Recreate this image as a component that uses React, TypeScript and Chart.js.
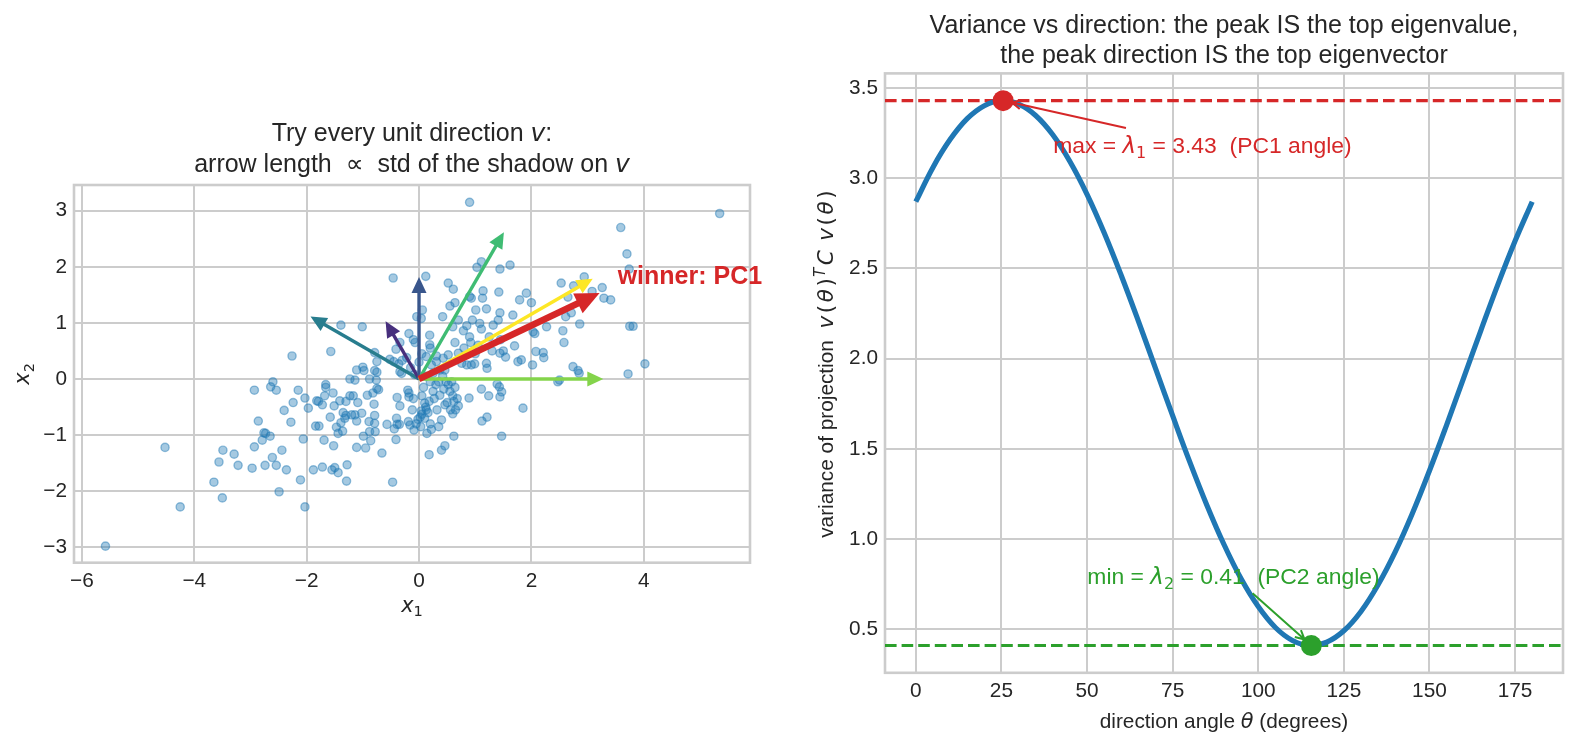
import React, { useEffect, useRef } from 'react';
import { Chart, registerables } from 'chart.js';

Chart.register(...registerables);

const TEXT = '#262626';
const GRID = '#cccccc';
const RED = '#d62728';
const GREEN = '#2ca02c';
const BLUE = '#1f77b4';
const SANS = '"Liberation Sans", Arial, sans-serif';
const MATH = '"DejaVu Sans", sans-serif';

// ---------- left panel: 2-D sample cloud ----------
const samplePoints: [number, number][] = [
  [-0.46, 1.8], [0.12, 1.83], [0.52, 1.71], [0.61, 1.6], [0.55, 1.3], [0.64, 1.36], [0.06, 1.23],
  [-0.04, 1.11], [0.04, 1.08], [0.42, 1.11], [0.6, 0.93], [-1.39, 0.96], [-1.01, 0.93], [-0.18, 0.81],
  [-0.1, 0.7], [-0.07, 0.65], [0.19, 0.78], [0.19, 0.61], [0.2, 0.55], [0.64, 0.65], [-0.34, 0.65],
  [-0.41, 0.53], [0.13, 0.4], [0.31, 0.41], [0.43, 0.37], [0.52, 0.43], [-1.57, 0.49], [-2.26, 0.41],
  [-0.79, 0.47], [-0.75, 0.31], [-0.52, 0.35], [-0.45, 0.31], [-0.36, 0.27], [-0.3, 0.33], [-1.11, 0.16],
  [-1.0, 0.21], [-0.98, 0.15], [-0.79, 0.15], [-0.75, 0.12], [-0.34, 0.13], [-0.31, 0.1], [0.31, 0.31],
  [0.37, 0.16], [0.46, 0.16], [-1.23, 0.0], [-1.14, -0.02], [-0.88, 0.0], [-0.76, -0.02], [-2.6, -0.05],
  [-2.64, -0.14], [-2.54, -0.2], [-2.93, -0.2], [-1.66, -0.15],
  [0.9, 3.15], [5.35, 2.95], [3.59, 2.7], [3.7, 2.23], [3.74, 1.96], [2.94, 1.82], [2.75, 1.66],
  [2.53, 1.71], [3.26, 1.63], [3.08, 1.56], [3.29, 1.44], [3.41, 1.41], [2.65, 1.46], [3.75, 0.94],
  [3.81, 0.94], [4.02, 0.27], [3.72, 0.09], [2.86, 0.98], [2.71, 1.18], [2.61, 1.11], [2.56, 0.86],
  [2.58, 0.65], [2.27, 0.93], [2.21, 0.47], [2.22, 0.38], [2.08, 0.49], [2.03, 0.84], [2.06, 0.81],
  [2.02, 0.25], [2.0, 1.36], [1.91, 1.53], [1.79, 1.41], [1.67, 1.14], [1.7, 0.59], [1.76, 0.31],
  [1.82, 0.34], [1.5, 0.5], [1.54, 0.39], [1.62, 2.03], [1.44, 1.96], [1.42, 1.55], [1.44, 1.18],
  [1.41, 1.05], [1.32, 0.96], [1.11, 2.09], [1.03, 1.99], [1.14, 1.57], [1.13, 1.44], [1.01, 1.23],
  [0.9, 1.47], [0.93, 1.44], [1.08, 0.99], [1.11, 0.89], [0.9, 0.75], [0.92, 0.65], [0.79, 0.86],
  [0.7, 0.46], [0.76, 0.28], [0.85, 0.25], [0.93, 0.25], [0.99, 0.27], [1.2, 0.28], [1.21, 0.19],
  [2.74, 0.22], [2.83, 0.15], [2.85, 0.1], [2.47, -0.05], [2.5, -0.02], [1.44, 0.46], [0.8, 0.55],
  [1.0, 0.45], [1.05, 0.6], [1.25, 0.75], [1.3, 0.5], [1.45, 0.7], [0.95, 1.05], [1.2, 1.25],
  [0.7, 1.05], [0.85, 0.95],
  [-5.58, -2.98], [-4.52, -1.22], [-4.25, -2.28], [-3.65, -1.84], [-3.5, -2.12], [-3.56, -1.48],
  [-3.49, -1.27], [-3.29, -1.34], [-3.22, -1.54], [-2.97, -1.59], [-2.93, -1.21], [-2.86, -0.75],
  [-2.79, -1.09], [-2.76, -0.96], [-2.73, -0.97], [-2.65, -1.02], [-2.74, -1.54], [-2.61, -1.4],
  [-2.54, -1.54], [-2.49, -2.01], [-2.44, -1.27], [-2.36, -1.62], [-2.4, -0.56], [-2.28, -0.77],
  [-2.24, -0.42], [-2.15, -0.2], [-2.11, -1.8], [-2.06, -1.07], [-2.03, -0.34], [-2.03, -2.28],
  [-1.97, -0.52], [-1.88, -1.62], [-1.84, -0.84], [-1.78, -0.84], [-1.82, -0.39], [-1.79, -0.4],
  [-1.72, -1.57], [-1.72, -0.46], [-1.69, -1.09], [-1.68, -0.3], [-1.66, -0.1], [-1.58, -0.68],
  [-1.55, -1.62], [-1.5, -1.58], [-1.53, -0.25], [-1.52, -1.19], [-1.51, -0.48], [-1.44, -1.67],
  [-1.47, -0.86], [-1.44, -0.97], [-1.41, -0.39], [-1.39, -0.78], [-1.35, -0.6], [-1.32, -0.7],
  [-1.3, -0.65], [-1.36, -0.93], [-1.3, -0.4], [-1.28, -1.53], [-1.29, -1.82], [-1.23, -0.3],
  [-1.17, -0.3], [-1.2, -0.64], [-1.14, -0.64], [-1.11, -1.22], [-1.11, -0.75], [-1.09, -0.42],
  [-1.02, -0.61], [-0.99, -1.02], [-0.95, -1.23], [-0.92, -0.29], [-0.89, -0.76], [-0.88, -0.94],
  [-0.86, -1.1], [-0.82, -0.25], [-0.8, -0.45], [-0.79, -0.65], [-0.79, -0.79], [-0.78, -0.94],
  [-0.75, -0.17], [-0.72, -0.19], [-0.66, -1.32], [-0.57, -0.81], [-0.47, -1.84], [-0.44, -0.89],
  [-0.41, -1.08], [-0.4, -0.7], [-0.39, -0.33], [-0.34, -0.48], [-0.39, -0.81], [-0.35, -0.81],
  [-0.19, -0.76], [-0.16, -0.82], [-0.18, -0.25], [-0.18, -0.32], [-0.09, -0.91], [-0.02, -0.72],
  [0.02, -0.68], [0.05, -0.63], [0.04, -0.57], [0.1, -0.43], [0.13, -0.55], [0.14, -0.97],
  [0.18, -1.35], [0.4, -1.27], [0.46, -1.19], [0.62, -1.02], [0.46, -0.46], [0.4, -0.73],
  [1.85, -0.52], [1.47, -1.02], [1.44, -0.32], [1.47, -0.23], [1.43, -0.14], [1.39, -0.09],
  [1.24, -0.3], [1.11, -0.18], [1.21, -0.68], [1.12, -0.75], [0.89, -0.34], [0.37, -0.29],
  [0.44, -0.18], [0.52, -0.1], [0.55, -0.22], [0.6, -0.3], [0.62, -0.4], [0.58, -0.05], [0.64, -0.15],
  [0.68, -0.35], [0.5, -0.42], [0.56, -0.55], [0.65, -0.55], [0.7, -0.48], [0.6, -0.62],
  [-0.1, -0.35], [0.05, -0.3], [0.12, -0.5], [0.16, -0.6], [0.18, -0.4], [0.1, -0.7], [0.03, -0.85],
  [-0.05, -0.8], [-0.12, -0.55], [-0.2, -0.2], [0.08, -0.15], [0.2, -0.05], [0.25, -0.22],
  [0.3, -0.1], [0.35, -0.05], [0.12, 0.05], [-0.08, 0.08], [-0.15, 0.2], [-0.22, 0.38], [0.0, 0.3],
  [0.05, 0.45], [0.22, 0.25], [0.25, 0.1], [0.42, 0.05], [0.48, -0.05], [0.27, -0.35], [0.32, -0.55],
  [0.35, -0.85], [0.2, -0.8], [0.22, -0.9],
];

// probe directions (degrees), their arrow lengths and colours, in drawing order
const probeAngles = [150, 120, 90, 60, 0, 30];
const probeLengths = [2.23, 1.19, 1.82, 3.02, 3.28, 3.57];
const probeColors = ['#287d8e', '#472f7d', '#39568c', '#3fbc73', '#84d44b', '#fde725'];
const pc1Angle = 25.5;
const pc1Length = 3.56;

const leftXTicks = [-6, -4, -2, 0, 2, 4];
const leftYTicks = [-3, -2, -1, 0, 1, 2, 3];

// ---------- right panel: variance of the projection vs angle ----------
const angleGrid = [0, 5, 10, 15, 20, 25, 30, 35, 40, 45, 50, 55, 60, 65, 70, 75, 80, 85, 90, 95, 100,
  105, 110, 115, 120, 125, 130, 135, 140, 145, 150, 155, 160, 165, 170, 175, 180];
const projVariance = [2.87, 3.06, 3.214, 3.33, 3.402, 3.43, 3.411, 3.348, 3.241, 3.093, 2.911, 2.698,
  2.461, 2.208, 1.946, 1.684, 1.428, 1.188, 0.97, 0.78, 0.626, 0.51, 0.438, 0.41, 0.429, 0.492, 0.599,
  0.747, 0.929, 1.142, 1.379, 1.632, 1.894, 2.156, 2.412, 2.652, 2.87];
const lambda1 = 3.43;
const lambda2 = 0.41;
const thetaMax = 25.5;
const thetaMin = 115.5;

const rightXTicks = [0, 25, 50, 75, 100, 125, 150, 175];
const rightYTicks = [0.5, 1.0, 1.5, 2.0, 2.5, 3.0, 3.5];

// ---------- text helpers ----------
type Seg = { t: string; font: string; dy?: number; sp?: number };
const sans = (s: number, w = '') => `${w} ${s}px ${SANS}`.trim();
const math = (s: number) => `${s}px ${MATH}`;
const mathIt = (s: number) => `italic ${s}px ${MATH}`;

function segsWidth(ctx: CanvasRenderingContext2D, segs: Seg[]) {
  let w = 0;
  for (const s of segs) {
    ctx.font = s.font;
    w += ctx.measureText(s.t).width + (s.sp || 0);
  }
  return w;
}

function drawSegs(ctx: CanvasRenderingContext2D, segs: Seg[], x: number, y: number, align: 'left' | 'center', color: string) {
  const w = segsWidth(ctx, segs);
  let cx = align === 'center' ? x - w / 2 : x;
  ctx.save();
  ctx.fillStyle = color;
  ctx.textAlign = 'left';
  ctx.textBaseline = 'alphabetic';
  for (const s of segs) {
    ctx.font = s.font;
    ctx.fillText(s.t, cx, y + (s.dy || 0));
    cx += ctx.measureText(s.t).width + (s.sp || 0);
  }
  ctx.restore();
  return w;
}

function drawRotated(ctx: CanvasRenderingContext2D, segs: Seg[], x: number, y: number, color: string) {
  ctx.save();
  ctx.translate(x, y);
  ctx.rotate(-Math.PI / 2);
  drawSegs(ctx, segs, 0, 0, 'center', color);
  ctx.restore();
}

function filledArrow(ctx: CanvasRenderingContext2D, x0: number, y0: number, x1: number, y1: number,
  color: string, lw: number, headLen: number, headHalf: number) {
  const dx = x1 - x0, dy = y1 - y0;
  const L = Math.hypot(dx, dy);
  const ux = dx / L, uy = dy / L;
  const bx = x1 - ux * headLen, by = y1 - uy * headLen;
  ctx.save();
  ctx.strokeStyle = color;
  ctx.fillStyle = color;
  ctx.lineWidth = lw;
  ctx.lineCap = 'butt';
  ctx.beginPath();
  ctx.moveTo(x0, y0);
  ctx.lineTo(bx + ux * 2, by + uy * 2);
  ctx.stroke();
  ctx.beginPath();
  ctx.moveTo(x1, y1);
  ctx.lineTo(bx - uy * headHalf, by + ux * headHalf);
  ctx.lineTo(bx + uy * headHalf, by - ux * headHalf);
  ctx.closePath();
  ctx.fill();
  ctx.restore();
}

function openArrow(ctx: CanvasRenderingContext2D, x0: number, y0: number, x1: number, y1: number, color: string) {
  const dx = x1 - x0, dy = y1 - y0;
  const L = Math.hypot(dx, dy);
  const ux = dx / L, uy = dy / L;
  const hl = 9, hw = 4.6;
  ctx.save();
  ctx.strokeStyle = color;
  ctx.lineWidth = 2;
  ctx.beginPath();
  ctx.moveTo(x0, y0);
  ctx.lineTo(x1, y1);
  ctx.moveTo(x1 - ux * hl - uy * hw, y1 - uy * hl + ux * hw);
  ctx.lineTo(x1, y1);
  ctx.lineTo(x1 - ux * hl + uy * hw, y1 - uy * hl - ux * hw);
  ctx.stroke();
  ctx.restore();
}

function frame(chart: any) {
  const { ctx, chartArea: a } = chart;
  ctx.save();
  ctx.strokeStyle = GRID;
  ctx.lineWidth = 2.6;
  ctx.strokeRect(a.left, a.top, a.right - a.left, a.bottom - a.top);
  ctx.restore();
}

const fmtSigned = (v: number) => (v < 0 ? '\u2212' + Math.abs(v) : String(v));

const leftDecor = {
  id: 'leftDecor',
  beforeDatasetsDraw(chart: any) {
    frame(chart);
  },
  afterDatasetsDraw(chart: any) {
    const { ctx } = chart;
    const xs = chart.scales.x, ys = chart.scales.y;
    const ox = xs.getPixelForValue(0), oy = ys.getPixelForValue(0);
    probeAngles.forEach((deg, i) => {
      const r = (deg * Math.PI) / 180;
      const tx = xs.getPixelForValue(probeLengths[i] * Math.cos(r));
      const ty = ys.getPixelForValue(probeLengths[i] * Math.sin(r));
      filledArrow(ctx, ox, oy, tx, ty, probeColors[i], 3.4, 16, 7.5);
    });
    const pr = (pc1Angle * Math.PI) / 180;
    const px = pc1Length * Math.cos(pr), py = pc1Length * Math.sin(pr);
    filledArrow(ctx, ox, oy, xs.getPixelForValue(px), ys.getPixelForValue(py), RED, 6.5, 24, 11);
    drawSegs(ctx, [{ t: 'winner: PC1', font: sans(25, 'bold') }],
      xs.getPixelForValue(px * 1.1), ys.getPixelForValue(py * 1.1), 'left', RED);
  },
  afterDraw(chart: any) {
    const { ctx, chartArea: a } = chart;
    const cx = (a.left + a.right) / 2;
    const cy = (a.top + a.bottom) / 2;
    drawSegs(ctx, [
      { t: 'Try every unit direction ', font: sans(25) },
      { t: 'v', font: mathIt(25) },
      { t: ':', font: sans(25) },
    ], cx, a.top - 44, 'center', TEXT);
    drawSegs(ctx, [
      { t: 'arrow length  ', font: sans(25) },
      { t: '\u221D', font: math(25) },
      { t: '  std of the shadow on ', font: sans(25) },
      { t: 'v', font: mathIt(25) },
    ], cx, a.top - 13, 'center', TEXT);
    drawSegs(ctx, [
      { t: 'x', font: mathIt(20.8) },
      { t: '1', font: math(14.6), dy: 4.5 },
    ], cx, a.bottom + 49, 'center', TEXT);
    drawRotated(ctx, [
      { t: 'x', font: mathIt(20.8) },
      { t: '2', font: math(14.6), dy: 4.5 },
    ], a.left - 45, cy, TEXT);
  },
};

const rightDecor = {
  id: 'rightDecor',
  beforeDatasetsDraw(chart: any) {
    frame(chart);
    const { ctx, chartArea: a } = chart;
    const ys = chart.scales.y;
    const dash = (v: number, color: string) => {
      const y = ys.getPixelForValue(v);
      ctx.save();
      ctx.beginPath();
      ctx.rect(a.left, a.top, a.right - a.left, a.bottom - a.top);
      ctx.clip();
      ctx.strokeStyle = color;
      ctx.lineWidth = 3.1;
      ctx.setLineDash([11.6, 5]);
      ctx.beginPath();
      ctx.moveTo(a.left, y);
      ctx.lineTo(a.right, y);
      ctx.stroke();
      ctx.restore();
    };
    dash(lambda1, RED);
    dash(lambda2, GREEN);
  },
  afterDatasetsDraw(chart: any) {
    const { ctx } = chart;
    const xs = chart.scales.x, ys = chart.scales.y;
    const note = (segs: Seg[], tx: number, ty: number, px: number, py: number, color: string) => {
      const x = xs.getPixelForValue(tx), y = ys.getPixelForValue(ty);
      const w = drawSegs(ctx, segs, x, y, 'left', color);
      const cx = x + w / 2, cy = y - 8;
      const ptx = xs.getPixelForValue(px), pty = ys.getPixelForValue(py);
      const dx = ptx - cx, dy = pty - cy;
      const t = Math.min((w / 2) / Math.abs(dx), 17 / Math.abs(dy));
      const sx = cx + dx * t, sy = cy + dy * t;
      const L = Math.hypot(ptx - sx, pty - sy);
      const ex = ptx - ((ptx - sx) / L) * 9, ey = pty - ((pty - sy) / L) * 9;
      openArrow(ctx, sx, sy, ex, ey, color);
    };
    note([
      { t: 'max = ', font: sans(22.9) },
      { t: '\u03BB', font: mathIt(22.9) },
      { t: '1', font: math(16), dy: 4.6 },
      { t: ` = ${lambda1.toFixed(2)}  (PC1 angle)`, font: sans(22.9) },
    ], thetaMax + 14.6, lambda1 - 0.29, thetaMax, lambda1, RED);
    note([
      { t: 'min = ', font: sans(22.9) },
      { t: '\u03BB', font: mathIt(22.9) },
      { t: '2', font: math(16), dy: 4.6 },
      { t: ` = ${lambda2.toFixed(2)}  (PC2 angle)`, font: sans(22.9) },
    ], thetaMin - 65.4, lambda2 + 0.34, thetaMin, lambda2, GREEN);
  },
  afterDraw(chart: any) {
    const { ctx, chartArea: a } = chart;
    const cx = (a.left + a.right) / 2;
    const cy = (a.top + a.bottom) / 2;
    drawSegs(ctx, [{ t: 'Variance vs direction: the peak IS the top eigenvalue,', font: sans(25) }],
      cx, a.top - 40, 'center', TEXT);
    drawSegs(ctx, [{ t: 'the peak direction IS the top eigenvector', font: sans(25) }],
      cx, a.top - 10, 'center', TEXT);
    drawSegs(ctx, [
      { t: 'direction angle ', font: sans(20.8) },
      { t: '\u03B8', font: mathIt(20.8) },
      { t: ' (degrees)', font: sans(20.8) },
    ], cx, a.bottom + 55, 'center', TEXT);
    const g = 2.6;
    const m = 21.5;
    drawRotated(ctx, [
      { t: 'variance of projection  ', font: sans(20.8) },
      { t: 'v', font: mathIt(m), sp: g },
      { t: '(', font: math(m), sp: g },
      { t: '\u03B8', font: mathIt(m), sp: g },
      { t: ')', font: math(m), sp: 1 },
      { t: 'T', font: mathIt(15), dy: -8.5, sp: g },
      { t: 'C', font: mathIt(m), sp: g },
      { t: '\u2009', font: math(m), sp: g },
      { t: 'v', font: mathIt(m), sp: g },
      { t: '(', font: math(m), sp: g },
      { t: '\u03B8', font: mathIt(m), sp: g },
      { t: ')', font: math(m) },
    ], a.left - 52, cy - 9, TEXT);
  },
};

function axis(min: number, max: number, tickValues: number[], fmt: (v: number) => string, isX: boolean, size: number) {
  return {
    type: 'linear' as const,
    min,
    max,
    afterBuildTicks: (s: any) => {
      s.ticks = tickValues.map((v) => ({ value: v }));
    },
    afterFit: (s: any) => {
      if (isX) s.height = size;
      else s.width = size;
    },
    grid: { color: GRID, lineWidth: 2, drawTicks: false },
    border: { display: false },
    ticks: {
      padding: isX ? 6 : 7,
      color: TEXT,
      autoSkip: false,
      maxRotation: 0,
      font: { size: 20.8, family: SANS },
      callback: (v: any) => fmt(Number(v)),
    },
  };
}

export default function App() {
  const leftRef = useRef<HTMLCanvasElement>(null);
  const rightRef = useRef<HTMLCanvasElement>(null);

  useEffect(() => {
    document.body.style.margin = '0';
    Chart.defaults.font.family = SANS;
    Chart.defaults.color = TEXT;

    const left = new Chart(leftRef.current!, {
      type: 'scatter',
      data: {
        datasets: [{
          data: samplePoints.map(([x, y]) => ({ x, y })),
          pointRadius: 4.1,
          pointBorderWidth: 1.4,
          backgroundColor: 'rgba(31,119,180,0.4)',
          borderColor: 'rgba(31,119,180,0.45)',
        }],
      },
      options: {
        responsive: false,
        animation: false,
        devicePixelRatio: 1,
        layout: { padding: { left: 14, top: 185, right: 827, bottom: 145.3 } },
        plugins: { legend: { display: false }, tooltip: { enabled: false }, title: { display: false } },
        scales: {
          x: axis(-6.14, 5.89, leftXTicks, fmtSigned, true, 40),
          y: axis(-3.275, 3.458, leftYTicks, fmtSigned, false, 60),
        },
      },
      plugins: [leftDecor],
    });

    const right = new Chart(rightRef.current!, {
      type: 'line',
      data: {
        datasets: [
          {
            data: angleGrid.map((a, i) => ({ x: a, y: projVariance[i] })),
            borderColor: BLUE,
            borderWidth: 5.2,
            pointRadius: 0,
            tension: 0.4,
            fill: false,
            order: 3,
          },
          {
            data: [{ x: thetaMax, y: lambda1 }],
            showLine: false,
            pointRadius: 10.5,
            pointBorderWidth: 0,
            backgroundColor: RED,
            borderColor: RED,
            order: 1,
          },
          {
            data: [{ x: thetaMin, y: lambda2 }],
            showLine: false,
            pointRadius: 10.5,
            pointBorderWidth: 0,
            backgroundColor: GREEN,
            borderColor: GREEN,
            order: 1,
          },
        ],
      },
      options: {
        responsive: false,
        animation: false,
        devicePixelRatio: 1,
        layout: { padding: { left: 825, top: 73.4, right: 14, bottom: 35.2 } },
        plugins: { legend: { display: false }, tooltip: { enabled: false }, title: { display: false } },
        scales: {
          x: axis(-9, 189, rightXTicks, (v) => String(v), true, 40),
          y: axis(0.259, 3.581, rightYTicks, (v) => v.toFixed(1), false, 60),
        },
      },
      plugins: [rightDecor],
    });

    return () => {
      left.destroy();
      right.destroy();
    };
  }, []);

  const canvasStyle: React.CSSProperties = { position: 'absolute', left: 0, top: 0, width: 1577, height: 748 };
  return (
    <div style={{ position: 'relative', width: 1577, height: 748, background: '#ffffff', overflow: 'hidden' }}>
      <canvas ref={leftRef} width={1577} height={748} style={canvasStyle} />
      <canvas ref={rightRef} width={1577} height={748} style={canvasStyle} />
    </div>
  );
}
